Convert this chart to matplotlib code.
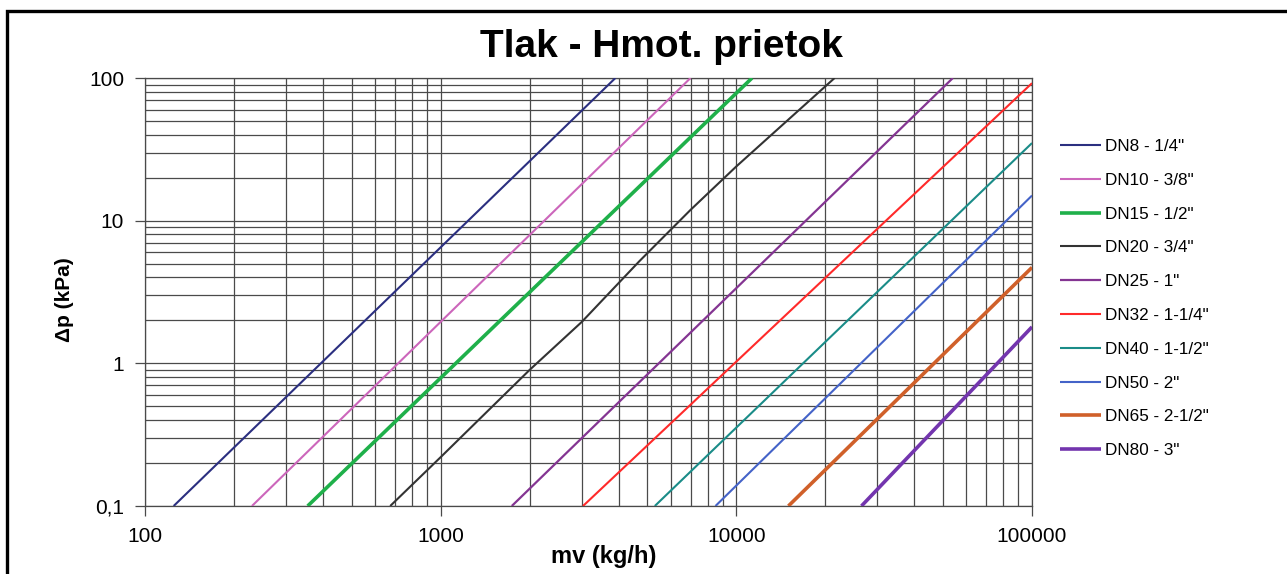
import matplotlib
matplotlib.use("Agg")
import matplotlib.pyplot as plt
from matplotlib.patches import Rectangle
from matplotlib.ticker import FixedLocator, LogLocator, NullFormatter

plt.rcParams["font.family"] = ["Liberation Sans", "DejaVu Sans"]

# =========================
# DATA
# =========================
labels = ['DN8 - 1/4"', 'DN10 - 3/8"', 'DN15 - 1/2"', 'DN20 - 3/4"', 'DN25 - 1"',
          'DN32 - 1-1/4"', 'DN40 - 1-1/2"', 'DN50 - 2"', 'DN65 - 2-1/2"', 'DN80 - 3"']

mv_dn8 = [125, 3900]
dp_dn8 = [0.1, 100]
mv_dn10 = [230, 7000]
dp_dn10 = [0.1, 100]
mv_dn15 = [355, 11300]
dp_dn15 = [0.1, 100]
mv_dn20 = [675, 1000, 2000, 3000, 4700, 7000, 10000, 21500]
dp_dn20 = [0.1, 0.22, 0.9, 1.95, 5.2, 11.9, 24, 100]
mv_dn25 = [1740, 54000]
dp_dn25 = [0.1, 100]
mv_dn32 = [3030, 100000]
dp_dn32 = [0.1, 92]
mv_dn40 = [5300, 100000]
dp_dn40 = [0.1, 35]
mv_dn50 = [8500, 100000]
dp_dn50 = [0.1, 15]
mv_dn65 = [15000, 100000]
dp_dn65 = [0.1, 4.7]
mv_dn80 = [26500, 100000]
dp_dn80 = [0.1, 1.8]

series_mv = [mv_dn8, mv_dn10, mv_dn15, mv_dn20, mv_dn25, mv_dn32, mv_dn40, mv_dn50, mv_dn65, mv_dn80]
series_dp = [dp_dn8, dp_dn10, dp_dn15, dp_dn20, dp_dn25, dp_dn32, dp_dn40, dp_dn50, dp_dn65, dp_dn80]

colors = ['#2b2f80', '#cc66bb', '#1fb04a', '#333333', '#843592',
          '#ff2a2a', '#1a8c88', '#4463c8', '#d0602a', '#7335ae']
widths = [1.5, 1.5, 2.6, 1.5, 1.6, 1.5, 1.5, 1.5, 2.6, 2.6]

x_ticks = [100, 1000, 10000, 100000]
x_ticklabels = ["100", "1000", "10000", "100000"]
y_ticks = [0.1, 1, 10, 100]
y_ticklabels = ["0,1", "1", "10", "100"]

# =========================
# PLOT
# =========================
W, H = 1287, 574
fig = plt.figure(figsize=(W / 100, H / 100), dpi=100)
ax = fig.add_axes([145 / W, 1 - 506 / H, (1032 - 145) / W, (506 - 78) / H])

for mv, dp, c, lw, lab in zip(series_mv, series_dp, colors, widths, labels):
    ax.plot(mv, dp, color=c, linewidth=lw, label=lab, solid_capstyle='butt', zorder=3)

ax.set_xscale("log")
ax.set_yscale("log")
ax.set_xlim(100, 100000)
ax.set_ylim(0.1, 100)

ax.xaxis.set_major_locator(FixedLocator(x_ticks))
ax.set_xticklabels(x_ticklabels)
ax.yaxis.set_major_locator(FixedLocator(y_ticks))
ax.set_yticklabels(y_ticklabels)
ax.xaxis.set_minor_locator(LogLocator(base=10, subs=range(2, 10)))
ax.yaxis.set_minor_locator(LogLocator(base=10, subs=range(2, 10)))
ax.xaxis.set_minor_formatter(NullFormatter())
ax.yaxis.set_minor_formatter(NullFormatter())

ax.grid(True, which="both", color="#4a4a4a", linewidth=0.9)
ax.tick_params(which="major", length=7, width=0.9, color="#4a4a4a", labelsize=15, pad=8)
ax.tick_params(which="minor", length=0)
for s in ax.spines.values():
    s.set_color("#4a4a4a")
    s.set_linewidth(0.9)

# title is centred over the whole chart area (axes + legend), not the axes
fig.text(661 / W, 1 - 57 / H, "Tlak - Hmot. prietok", fontsize=28, fontweight="bold",
         ha="center", va="baseline")
ax.set_xlabel("mv (kg/h)", fontsize=17, fontweight="bold")
ax.xaxis.set_label_coords((604 - 145) / (1032 - 145), -(545 - 506) / (506 - 78))
ax.set_ylabel("Δp (kPa)", fontsize=15, fontweight="bold")
ax.yaxis.set_label_coords(-(145 - 74) / (1032 - 145), (506 - 300) / (506 - 78))

fig.legend(loc="upper left", bbox_to_anchor=(1060 / W, 1 - 139 / H), frameon=False,
           fontsize=12.3, handlelength=2.4, handletextpad=0.25, labelspacing=1.1,
           borderpad=0, borderaxespad=0)

# outer frame (cut off at right and bottom in the original)
fig.add_artist(Rectangle((7 / W, -0.2), 1.2, 1.2 - 11 / H, transform=fig.transFigure,
                         fill=False, edgecolor="black", linewidth=2.4, clip_on=False))

fig.savefig("out.png", dpi=100)
